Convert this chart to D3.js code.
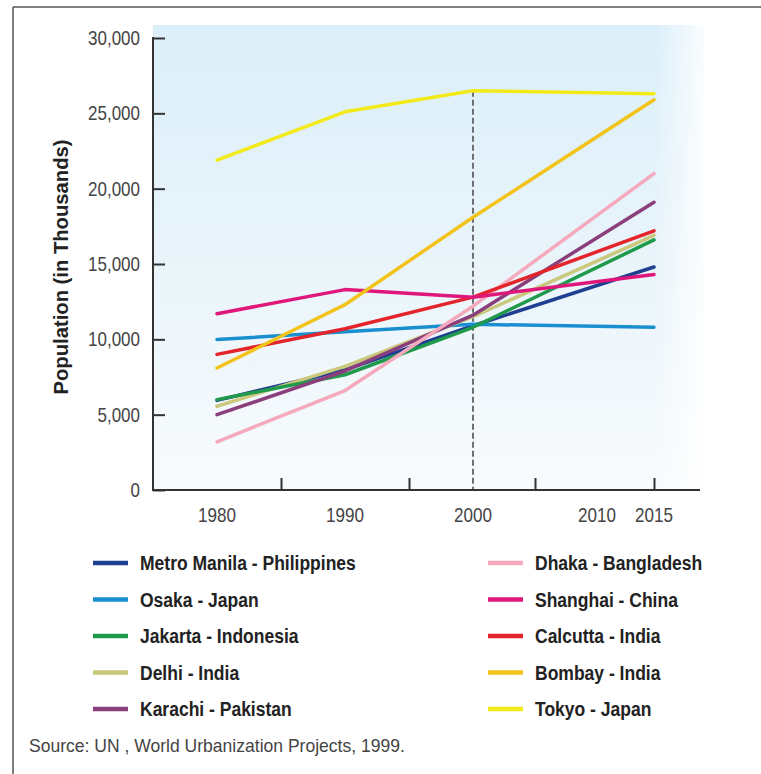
<!DOCTYPE html>
<html><head><meta charset="utf-8">
<script src="https://cdn.jsdelivr.net/npm/d3@7/dist/d3.min.js"></script>
<style>
html,body{margin:0;padding:0;background:#fff;}
svg{display:block;}
text{font-family:"Liberation Sans",Arial,sans-serif;}
</style></head>
<body>
<svg id="chart" width="761" height="774"></svg>
<script>
const years = [1980, 1990, 2000, 2015];
const xTickLabels = [1980, 1990, 2000, 2010, 2015];
const xTickMarks = [1985, 1995, 2005, 2015];
const yTicks = [0, 5000, 10000, 15000, 20000, 25000, 30000];

const cityNames = ["Metro Manila - Philippines","Osaka - Japan","Jakarta - Indonesia","Delhi - India","Karachi - Pakistan",
                   "Dhaka - Bangladesh","Shanghai - China","Calcutta - India","Bombay - India","Tokyo - Japan"];
const cityColors = ["#1f3f91","#1a8fd0","#1e9a4a","#c9c87c","#8b3e7c",
                    "#f5a9bc","#e0177b","#e3242b","#f2c31b","#f3ea1c"];

const manila   = [5950, 7970, 10900, 14800];
const osaka    = [9990, 10500, 11000, 10800];
const jakarta  = [6000, 7650, 10800, 16600];
const delhi    = [5560, 8200, 11500, 16900];
const karachi  = [5000, 7900, 11600, 19100];
const dhaka    = [3200, 6600, 12200, 21000];
const shanghai = [11700, 13300, 12800, 14300];
const calcutta = [9000, 10700, 12800, 17200];
const bombay   = [8100, 12300, 18100, 25900];
const tokyo    = [21900, 25100, 26500, 26300];

const seriesValues = [manila, osaka, jakarta, delhi, karachi, dhaka, shanghai, calcutta, bombay, tokyo];
const drawOrder = [0, 1, 3, 2, 4, 5, 7, 6, 8, 9];

const svg = d3.select("#chart");

// helper: natural width of a string at a font setting
function measure(str, size, weight){
  const t = svg.append("text").attr("font-size",size).attr("font-weight",weight).text(str);
  const w = t.node().getComputedTextLength();
  t.remove();
  return w;
}

// frame (top and left edge of scanned box)
svg.append("line").attr("x1",13).attr("y1",7).attr("x2",761).attr("y2",7).attr("stroke","#555").attr("stroke-width",1.5);
svg.append("line").attr("x1",13).attr("y1",7).attr("x2",13).attr("y2",774).attr("stroke","#555").attr("stroke-width",1.5);

const x = d3.scaleLinear().domain([1980, 1990, 2000, 2010, 2015]).range([217, 345, 473, 597, 654]);
const y = d3.scaleLinear().domain([0, 30000]).range([490, 38]);

const axisLeftX = 153, axisRight = 700, plotTop = 25;

// background gradient
const defs = svg.append("defs");
const g1 = defs.append("linearGradient").attr("id","bg").attr("x1",0).attr("y1",0).attr("x2",0).attr("y2",1);
g1.append("stop").attr("offset","0%").attr("stop-color","#dbeffa");
g1.append("stop").attr("offset","50%").attr("stop-color","#e9f4fa");
g1.append("stop").attr("offset","100%").attr("stop-color","#f8fbfd");
const g2 = defs.append("linearGradient").attr("id","fadeR").attr("x1",0).attr("y1",0).attr("x2",1).attr("y2",0);
g2.append("stop").attr("offset","0%").attr("stop-color","#fff").attr("stop-opacity",0);
g2.append("stop").attr("offset","100%").attr("stop-color","#fff").attr("stop-opacity",0.9);

svg.append("rect").attr("x",axisLeftX).attr("y",plotTop).attr("width",axisRight+5-axisLeftX).attr("height",490-plotTop).attr("fill","url(#bg)");
svg.append("rect").attr("x",axisRight-45).attr("y",plotTop).attr("width",51).attr("height",490-plotTop).attr("fill","url(#fadeR)");

// dashed 2000 line
svg.append("line").attr("x1",x(2000)).attr("x2",x(2000)).attr("y1",y(tokyo[2])).attr("y2",y(0))
  .attr("stroke","#6d6f73").attr("stroke-width",2).attr("stroke-dasharray","6,3");

// lines
const line = d3.line().x((d,i)=>x(years[i])).y(d=>y(d)).curve(d3.curveLinear);
const linesG = svg.append("g");
drawOrder.forEach(k=>{
  linesG.append("path").attr("d", line(seriesValues[k])).attr("fill","none")
    .attr("stroke", cityColors[k]).attr("stroke-width",3.5)
    .attr("stroke-linecap","round").attr("stroke-linejoin","round");
});

// Y axis
const yAxis = d3.axisRight(y).tickValues(yTicks).tickSize(12).tickFormat("");
const yG = svg.append("g").attr("transform",`translate(${axisLeftX},0)`).call(yAxis);
yG.select(".domain").remove();
yG.selectAll(".tick line").attr("stroke","#333").attr("stroke-width",2);
svg.append("line").attr("x1",axisLeftX).attr("x2",axisLeftX).attr("y1",y(30000)-1).attr("y2",y(0)+1).attr("stroke","#333").attr("stroke-width",2);
const ySize = 20, ySx = 52 / measure("30,000", ySize, "normal");
svg.append("g").selectAll("text").data(yTicks).join("text")
  .attr("transform",d=>`translate(140,${y(d)+7}) scale(${ySx},1)`).attr("text-anchor","end")
  .attr("font-size",ySize).attr("fill","#444").text(d=>d3.format(",")(d));

// X axis
svg.append("line").attr("x1",axisLeftX).attr("x2",axisRight).attr("y1",y(0)).attr("y2",y(0)).attr("stroke","#333").attr("stroke-width",2);
const xAxis = d3.axisTop(x).tickValues(xTickMarks).tickSize(12).tickFormat("");
const xG = svg.append("g").attr("transform",`translate(0,${y(0)})`).call(xAxis);
xG.select(".domain").remove();
xG.selectAll(".tick line").attr("stroke","#333").attr("stroke-width",2);
const xSize = 20, xSx = 38 / measure("1980", xSize, "normal");
svg.append("g").selectAll("text").data(xTickLabels).join("text")
  .attr("transform",d=>`translate(${x(d)},522) scale(${xSx},1)`).attr("text-anchor","middle")
  .attr("font-size",xSize).attr("fill","#444").text(d=>d);

// Y title
const tSize = 20, tSx = 255 / measure("Population (in Thousands)", tSize, "bold");
svg.append("text").attr("transform",`translate(68,267) rotate(-90) scale(${tSx},1)`).attr("text-anchor","middle")
  .attr("font-size",tSize).attr("font-weight","bold").attr("fill","#222").text("Population (in Thousands)");

// Legend
const lSize = 20, lSx = 216 / measure("Metro Manila - Philippines", lSize, "bold");
const legend = svg.append("g");
cityNames.forEach((name,i)=>{
  const col = Math.floor(i/5), row = i%5;
  const lx = col===0 ? 93 : 488;
  const ly = 563 + row*36.5;
  legend.append("line").attr("x1",lx).attr("x2",lx+35).attr("y1",ly).attr("y2",ly)
    .attr("stroke",cityColors[i]).attr("stroke-width",4.5);
  legend.append("text").attr("transform",`translate(${lx+47},${ly+7}) scale(${lSx},1)`)
    .attr("font-size",lSize).attr("font-weight","bold").attr("fill","#222").text(name);
});

// Source
const sSize = 18, sSx = 376 / measure("Source: UN , World Urbanization Projects, 1999.", sSize, "normal");
svg.append("text").attr("transform",`translate(29,752) scale(${sSx},1)`).attr("font-size",sSize).attr("fill","#444")
  .text("Source: UN , World Urbanization Projects, 1999.");
</script>
</body></html>
